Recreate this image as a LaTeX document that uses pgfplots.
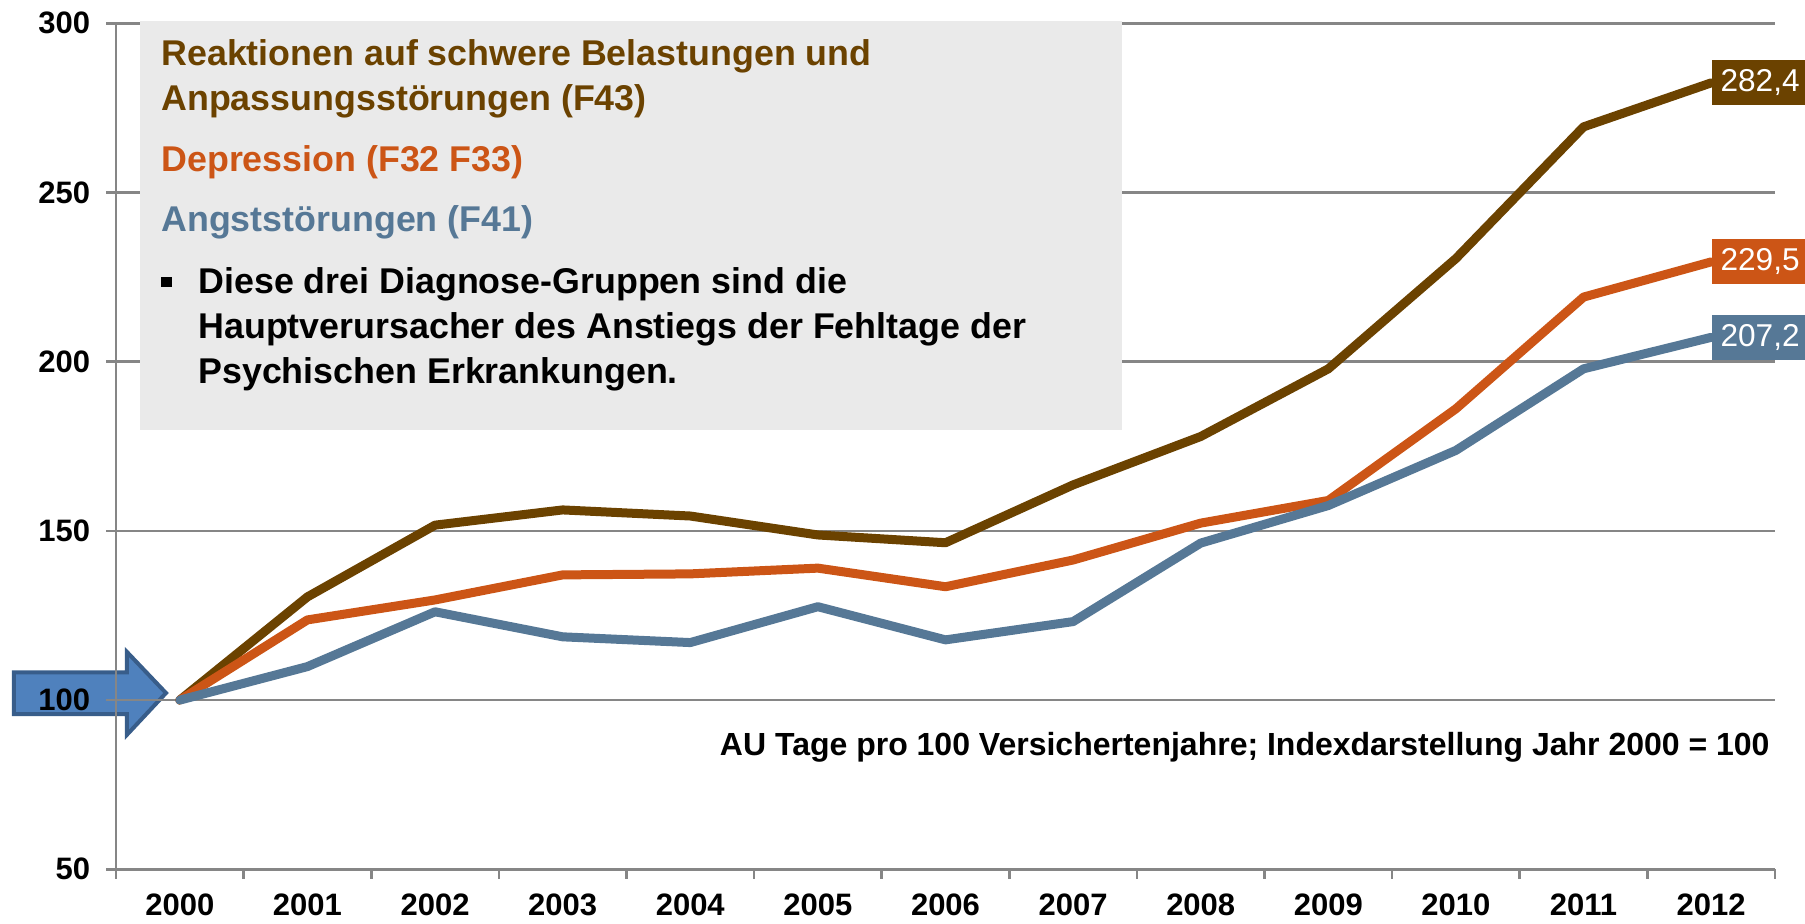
\documentclass[border=0pt]{standalone}
\usepackage{fontspec}
\setmainfont{Liberation Sans}
\usepackage{pgfplots}
\pgfplotsset{compat=1.18}
\definecolor{cBrown}{HTML}{6B4200}
\definecolor{cOrange}{HTML}{CC5516}
\definecolor{cBlue}{HTML}{567896}
\definecolor{gridgray}{HTML}{868686}
\definecolor{boxgray}{HTML}{EAEAEA}
\definecolor{arrowFill}{HTML}{4F81BD}
\definecolor{arrowBorder}{HTML}{385D8A}
\newcommand{\boxfont}{\fontsize{17.9}{20}\selectfont\bfseries}
\begin{document}
\begin{tikzpicture}
\path[use as bounding box] (-58pt,-26.85pt) rectangle (844.5pt,434.65pt);
% arrow behind axis
\draw[line width=2pt, draw=arrowBorder, fill=arrowFill, line join=miter]
  (-51pt,77.65pt) -- (5.5pt,77.65pt) -- (5.5pt,67.3pt) -- (25pt,88.15pt)
  -- (5.5pt,108.65pt) -- (5.5pt,98.5pt) -- (-51pt,98.5pt) -- cycle;
\begin{axis}[
  at={(0pt,0pt)}, anchor=south west,
  scale only axis, width=829.5pt, height=423pt,
  xmin=-0.5, xmax=12.5, ymin=50, ymax=300,
  clip=false,
  axis lines*=left,
  axis line style={draw=gridgray, line width=1.3pt},
  xtick={0,...,12},
  xticklabels={2000,2001,2002,2003,2004,2005,2006,2007,2008,2009,2010,2011,2012},
  minor xtick={-0.5,0.5,...,12.5},
  ytick={50,100,...,300},
  tick align=outside,
  major tick length=4.75pt,
  minor tick length=4.75pt,
  tick style={draw=gridgray, line width=1.3pt},
  major x tick style={draw=none},
  ymajorgrids,
  grid style={draw=gridgray, line width=1.3pt},
  /pgf/number format/assume math mode=true,
  ticklabel style={font=\fontsize{15.5}{18}\selectfont\bfseries, text=black},
  xticklabel style={anchor=base, yshift=-18.5pt},
  yticklabel style={inner sep=0pt, xshift=-8pt},
]
\addplot[cBrown, line width=4.5pt, line join=round, line cap=round] coordinates {
 (0,100) (1,130.5) (2,151.7) (3,156.2) (4,154.4) (5,148.8) (6,146.5)
 (7,163.6) (8,177.9) (9,197.9) (10,230.5) (11,269.4) (12,282.4)};
\addplot[cOrange, line width=4.5pt, line join=round, line cap=round] coordinates {
 (0,100) (1,123.7) (2,129.6) (3,137.0) (4,137.3) (5,139.0) (6,133.5)
 (7,141.4) (8,152.3) (9,159.0) (10,186.1) (11,219.1) (12,229.5)};
\addplot[cBlue, line width=4.5pt, line join=round, line cap=round] coordinates {
 (0,100) (1,109.9) (2,126.1) (3,118.7) (4,117.0) (5,127.6) (6,117.8)
 (7,123.2) (8,146.4) (9,157.5) (10,173.8) (11,197.9) (12,207.2)};
\node[anchor=west, fill=cBrown, text=white, inner sep=0pt, minimum width=48.5pt, minimum height=22.5pt, font=\fontsize{15.8}{18}\selectfont] at (axis cs:12,282.4) {282,4};
\node[anchor=west, fill=cOrange, text=white, inner sep=0pt, minimum width=48.5pt, minimum height=22.5pt, font=\fontsize{15.8}{18}\selectfont] at (axis cs:12,229.5) {229,5};
\node[anchor=west, fill=cBlue, text=white, inner sep=0pt, minimum width=48.5pt, minimum height=22.5pt, font=\fontsize{15.8}{18}\selectfont] at (axis cs:12,207.2) {207,2};
\end{axis}
% text box
\fill[boxgray] (12pt,219.65pt) rectangle (503pt,424.15pt);
\node[anchor=base west, inner sep=0pt, text=cBrown, font=\boxfont] at (22.5pt,401.65pt) {Reaktionen auf schwere Belastungen und};
\node[anchor=base west, inner sep=0pt, text=cBrown, font=\boxfont] at (22.5pt,379.15pt) {Anpassungsstörungen (F43)};
\node[anchor=base west, inner sep=0pt, text=cOrange, font=\boxfont] at (22.5pt,348.65pt) {Depression (F32 F33)};
\node[anchor=base west, inner sep=0pt, text=cBlue, font=\boxfont] at (22.5pt,318.65pt) {Angststörungen (F41)};
\fill[black] (22.75pt,291.15pt) rectangle (28pt,296.15pt);
\node[anchor=base west, inner sep=0pt, text=black, font=\boxfont] at (41pt,287.65pt) {Diese drei Diagnose-Gruppen sind die};
\node[anchor=base west, inner sep=0pt, text=black, font=\boxfont] at (41pt,265.15pt) {Hauptverursacher des Anstiegs der Fehltage der};
\node[anchor=base west, inner sep=0pt, text=black, font=\boxfont] at (41pt,243.15pt) {Psychischen Erkrankungen.};
% note
\node[anchor=base east, inner sep=0pt, text=black, font=\fontsize{16}{18}\selectfont\bfseries] at (827pt,57.15pt) {AU Tage pro 100 Versichertenjahre; Indexdarstellung Jahr 2000 = 100};
\end{tikzpicture}
\end{document}
